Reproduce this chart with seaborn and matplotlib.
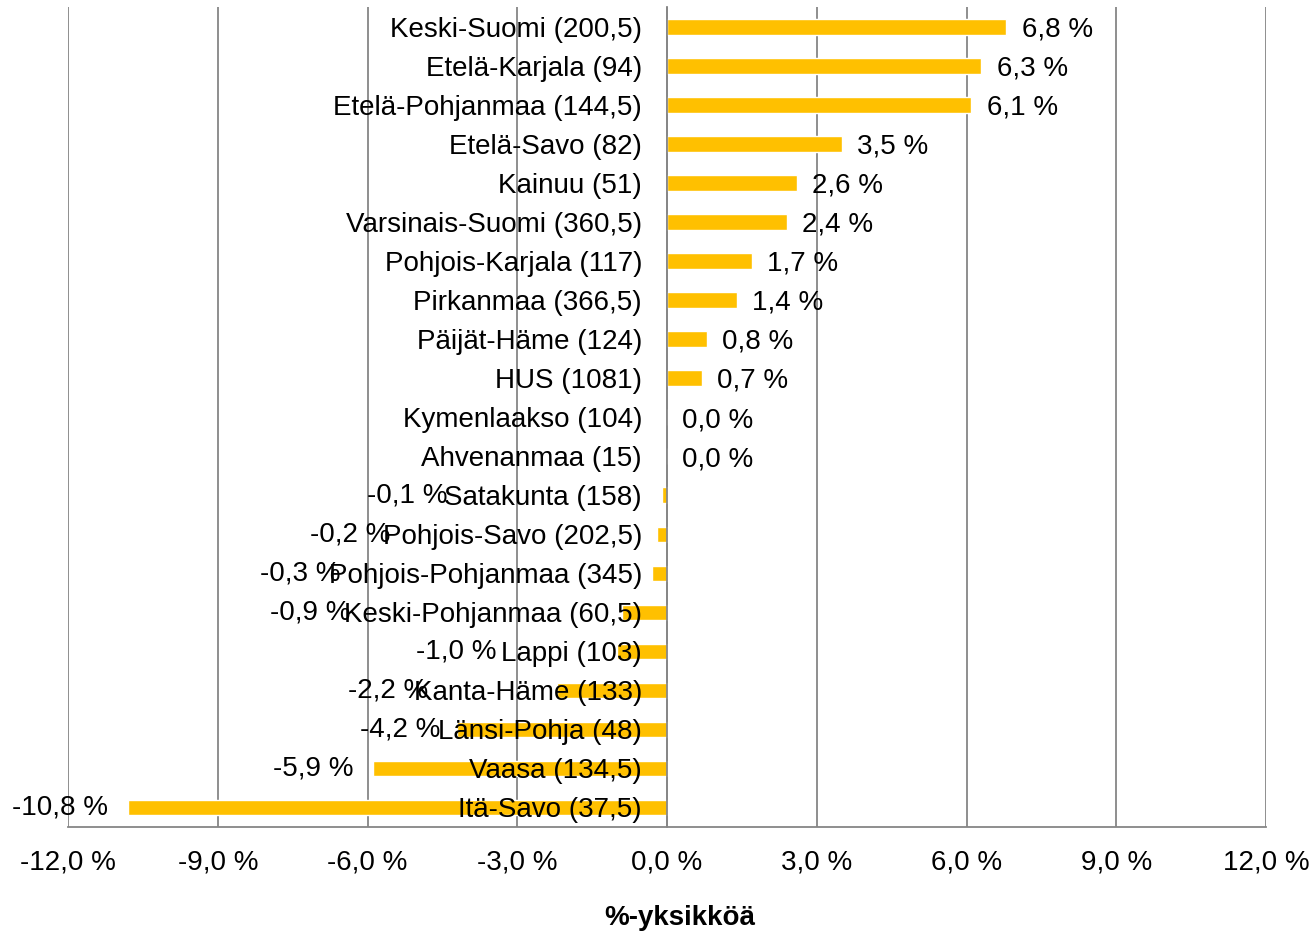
import numpy as np
import matplotlib.pyplot as plt
import seaborn as sns

# muutos %-yksikköinä, suluissa alueen koko
regions = ['Keski-Suomi (200,5)', 'Etelä-Karjala (94)', 'Etelä-Pohjanmaa (144,5)',
           'Etelä-Savo (82)', 'Kainuu (51)', 'Varsinais-Suomi (360,5)',
           'Pohjois-Karjala (117)', 'Pirkanmaa (366,5)', 'Päijät-Häme (124)',
           'HUS (1081)', 'Kymenlaakso (104)', 'Ahvenanmaa (15)', 'Satakunta (158)',
           'Pohjois-Savo (202,5)', 'Pohjois-Pohjanmaa (345)', 'Keski-Pohjanmaa (60,5)',
           'Lappi (103)', 'Kanta-Häme (133)', 'Länsi-Pohja (48)', 'Vaasa (134,5)',
           'Itä-Savo (37,5)']
values = [6.8, 6.3, 6.1, 3.5, 2.6, 2.4, 1.7, 1.4, 0.8, 0.7, 0.0, 0.0,
          -0.1, -0.2, -0.3, -0.9, -1.0, -2.2, -4.2, -5.9, -10.8]
xticks = [-12, -9, -6, -3, 0, 3, 6, 9, 12]

# negatiivisten arvojen tekstit ovat alkuperäisessä epätasaisesti, tässä niiden oikea reuna
neg_label_end = [-4.39, -5.55, -6.55, -6.35, -3.41, -4.79, -4.55, -6.29, -11.2]

GRAY = '#868686'
BAR = '#FFC000'

sns.set_style('white')
plt.rcParams['font.family'] = ['Liberation Sans', 'DejaVu Sans']
plt.rcParams['text.color'] = 'black'
plt.rcParams['xtick.labelcolor'] = 'black'

fig, ax = plt.subplots(figsize=(13.16, 9.35), dpi=100)
fig.subplots_adjust(left=0.0517, right=0.962, top=0.992, bottom=0.1155)

sns.barplot(x=values, y=regions, orient='h', color=BAR, width=0.4,
            saturation=1, ax=ax)

ax.set_xlim(-12, 12)
ax.set_ylim(len(regions) - 0.5, -0.5)
ax.set_xticks(xticks)
ax.set_xticklabels([f'{v:.1f} %'.replace('.', ',') for v in xticks])
ax.grid(axis='x', color=GRAY, lw=1.3)
ax.set_axisbelow(True)

for s in ['top', 'right']:
    ax.spines[s].set_visible(False)
ax.spines['left'].set_position(('data', 0))
for s in ['left', 'bottom']:
    ax.spines[s].set_color(GRAY)
    ax.spines[s].set_linewidth(1.3)

ax.set_yticks(range(len(regions)))
ax.set_yticklabels([])
ax.set_yticks(np.arange(-0.5, len(regions)), minor=True)
ax.tick_params(axis='y', which='major', length=0)
ax.tick_params(axis='y', which='minor', length=6, width=1.3, color=GRAY, direction='out')
ax.tick_params(axis='x', length=6, width=1.3, color=GRAY, direction='out',
               labelsize=20, pad=10, labelcolor='black')
ax.set_xlabel('')
ax.set_ylabel('')

# alueiden nimet nollalinjan vasemmalle puolelle
for i, name in enumerate(regions):
    ax.annotate(name, xy=(0, i), xytext=(-18, -2), textcoords='offset points',
                ha='right', va='center', fontsize=20, color='black')

# arvotekstit
k = 0
for i, v in enumerate(values):
    txt = f'{v:.1f} %'.replace('.', ',')
    if v >= 0:
        ax.annotate(txt, xy=(v, i), xytext=(11, -2), textcoords='offset points',
                    ha='left', va='center', fontsize=20, color='black')
    else:
        ax.text(neg_label_end[k], i, txt, ha='right', va='center', fontsize=20,
                color='black')
        k += 1

fig.text(680 / 1316, 1 - 918 / 935, '%-yksikköä', ha='center', va='center',
         fontsize=20, fontweight='bold', color='black')

plt.savefig('out.png', dpi=100)
